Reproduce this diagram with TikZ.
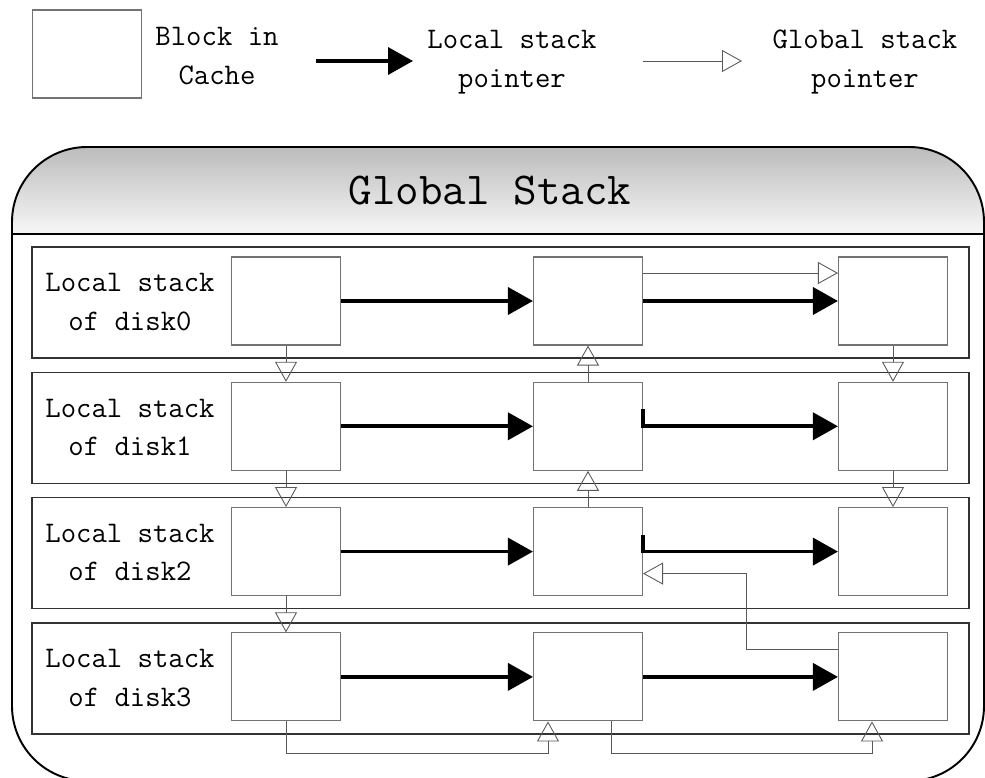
\documentclass[tikz,border=0pt]{standalone}
\usepackage{fontspec}
\usetikzlibrary{arrows.meta}

\begin{document}
\begin{tikzpicture}[x=0.2mm, y=-0.2mm,
    txt/.style={align=center, inner sep=0pt, font=\ttfamily\fontsize{17}{22}\selectfont},
    stackrow/.style={draw=black!80, line width=0.8pt, minimum width=187.4mm, minimum height=22.2mm, inner sep=0pt},
    cblock/.style={draw=black!55, fill=white, line width=0.6pt, minimum width=21.8mm, minimum height=17.6mm, inner sep=0pt},
    lptr/.style={line width=2.1pt, -{Triangle[length=5mm, width=5.4mm]}},
    gptr/.style={draw=black!65, line width=0.5pt, -{Triangle[open, length=4mm, width=4.4mm]}}]
        % --- CONFIGURATION ---
        \definecolor{headTop}{RGB}{188, 188, 188}    % gris du bandeau
        \definecolor{headBottom}{RGB}{247, 247, 247}

        \useasboundingbox (0,0) rectangle (985,778);

        % --- LEGENDE ---
        \node[cblock] (lgblock) at (87,54) {};
        \node[txt] (lgblocktxt) at (217,56) {Block in\\Cache};

        \coordinate (lgl0) at (316,61);
        \coordinate (lgl1) at (413,61);
        \draw[lptr] (lgl0) -- (lgl1);
        \node[txt] (lglocal) at (512,62) {Local stack\\pointer};

        \coordinate (lgg0) at (643,61);
        \coordinate (lgg1) at (742,61);
        \draw[gptr] (lgg0) -- (lgg1);
        \node[txt] (lgglobal) at (865,62) {Global stack\\pointer};

        % --- CADRE DE LA PILE GLOBALE ---
        \begin{scope}
            \clip[rounded corners=15mm] (12,147) rectangle (984,781);
            \shade[top color=headTop, bottom color=headBottom] (12,147) rectangle (984,234);
        \end{scope}
        \draw[line width=1.1pt, rounded corners=15mm] (12,147) rectangle (984,781);
        \draw[line width=1.1pt] (12,234) -- (984,234);
        \node[font=\ttfamily\fontsize{26}{30}\selectfont] (gtitle) at (490,191) {Global Stack};

        % --- PILES LOCALES ---
        \foreach \i in {0,...,3}{
            \node[stackrow] (r\i) at (500.5,{302.5+125.3*\i}) {};
            \node[txt] (lab\i) at (130,{302+125.3*\i}) {Local stack\\of disk\i};
            \foreach \j/\cx in {0/286,1/588,2/893}
                \node[cblock] (b\i\j) at (\cx,{301+125.3*\i}) {};
        }

        % Pointeurs locaux
        \foreach \i in {0,3}{
            \draw[lptr] (b\i0) -- (b\i1);
            \draw[lptr] (b\i1) -- (b\i2);
        }
        \foreach \i in {1,2}{
            \draw[lptr] (b\i0) -- (b\i1);
            \draw[lptr] ([yshift=3.4mm]b\i1.east) |- (b\i2.west);
        }

        % Pointeurs globaux
        \draw[gptr] ([yshift=5.6mm]b01.east) -- ([yshift=5.6mm]b02.west);
        \foreach \i/\k in {0/1,1/2,2/3}
            \draw[gptr] (b\i0) -- (b\k0);
        \foreach \i/\k in {0/1,1/2}
            \draw[gptr] (b\i2) -- (b\k2);
        \foreach \i/\k in {1/0,2/1}
            \draw[gptr] (b\i1) -- (b\k1);
        \draw[gptr] ([yshift=5.4mm]b32.west) -| ([xshift=20.6mm,yshift=-4.4mm]b21.east) -- ([yshift=-4.4mm]b21.east);
        \draw[gptr] (b30.south) -- ++(0,32) -| ([xshift=-8mm]b31.south);
        \draw[gptr] ([xshift=4.6mm]b31.south) -- ++(0,32) -| ([xshift=-4.2mm]b32.south);
    \end{tikzpicture}
\end{document}
